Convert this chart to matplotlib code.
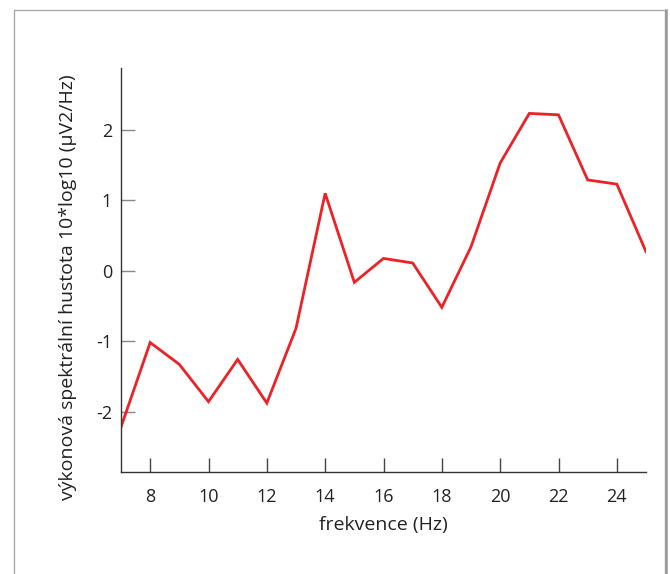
import matplotlib
matplotlib.use("Agg")
import matplotlib.pyplot as plt
from matplotlib.patches import Rectangle
from matplotlib.lines import Line2D

freq = [7, 8, 9, 10, 11, 12, 13, 14, 15, 16, 17, 18, 19, 20, 21, 22, 23, 24, 25]
power = [-2.22, -1.02, -1.33, -1.86, -1.26, -1.88, -0.82, 1.10, -0.165, 0.175,
         0.11, -0.52, 0.34, 1.53, 2.235, 2.215, 1.29, 1.23, 0.27]
xticks = [8, 10, 12, 14, 16, 18, 20, 22, 24]
yticks = [-2, -1, 0, 1, 2]

plt.rcParams['font.family'] = ['Open Sans', 'DejaVu Sans']

W, H = 670, 574
fig = plt.figure(figsize=(W / 100, H / 100), dpi=100)
fig.add_artist(Line2D([13.5 / W, 13.5 / W, 665 / W, 665 / W],
                      [-0.05, 1 - 9.5 / H, 1 - 9.5 / H, -0.05],
                      transform=fig.transFigure, color='#aaaaaa', linewidth=1.0))
fig.add_artist(Line2D([665.5 / W, 665.5 / W], [-0.05, 1 - 9.5 / H],
                      transform=fig.transFigure, color='#999999', linewidth=1.8))

ax = fig.add_axes([121 / W, 1 - 471.7 / H, (646 - 121) / W, (471.7 - 68) / H])
ax.plot(freq, power, color='#ed2226', linewidth=2.0, solid_joinstyle='miter')
ax.set_xlim(7, 25)
ax.set_ylim(-2.855, 2.88)
ax.set_xticks(xticks)
ax.set_yticks(yticks)
ax.set_xticklabels([str(t) for t in xticks])
ax.set_yticklabels([str(t) for t in yticks])
for s in ['top', 'right']:
    ax.spines[s].set_visible(False)
for s in ['left', 'bottom']:
    ax.spines[s].set_color('#333333')
    ax.spines[s].set_linewidth(1.0)
ax.tick_params(axis='x', direction='in', length=10, width=1, color='#444444',
               labelsize=13, labelcolor='#222222', pad=12)
ax.tick_params(axis='y', direction='in', length=10, width=1, color='#888888',
               labelsize=13, labelcolor='#222222', pad=6.5)
ax.set_xlabel('frekvence (Hz)', fontsize=14, color='#222222', labelpad=7)
ax.set_ylabel('výkonová spektrální hustota 10*log10 (µV2/Hz)', fontsize=14,
              color='#222222')
ax.yaxis.set_label_coords(-0.083, 0.4575)

fig.savefig('out.png', dpi=100)
